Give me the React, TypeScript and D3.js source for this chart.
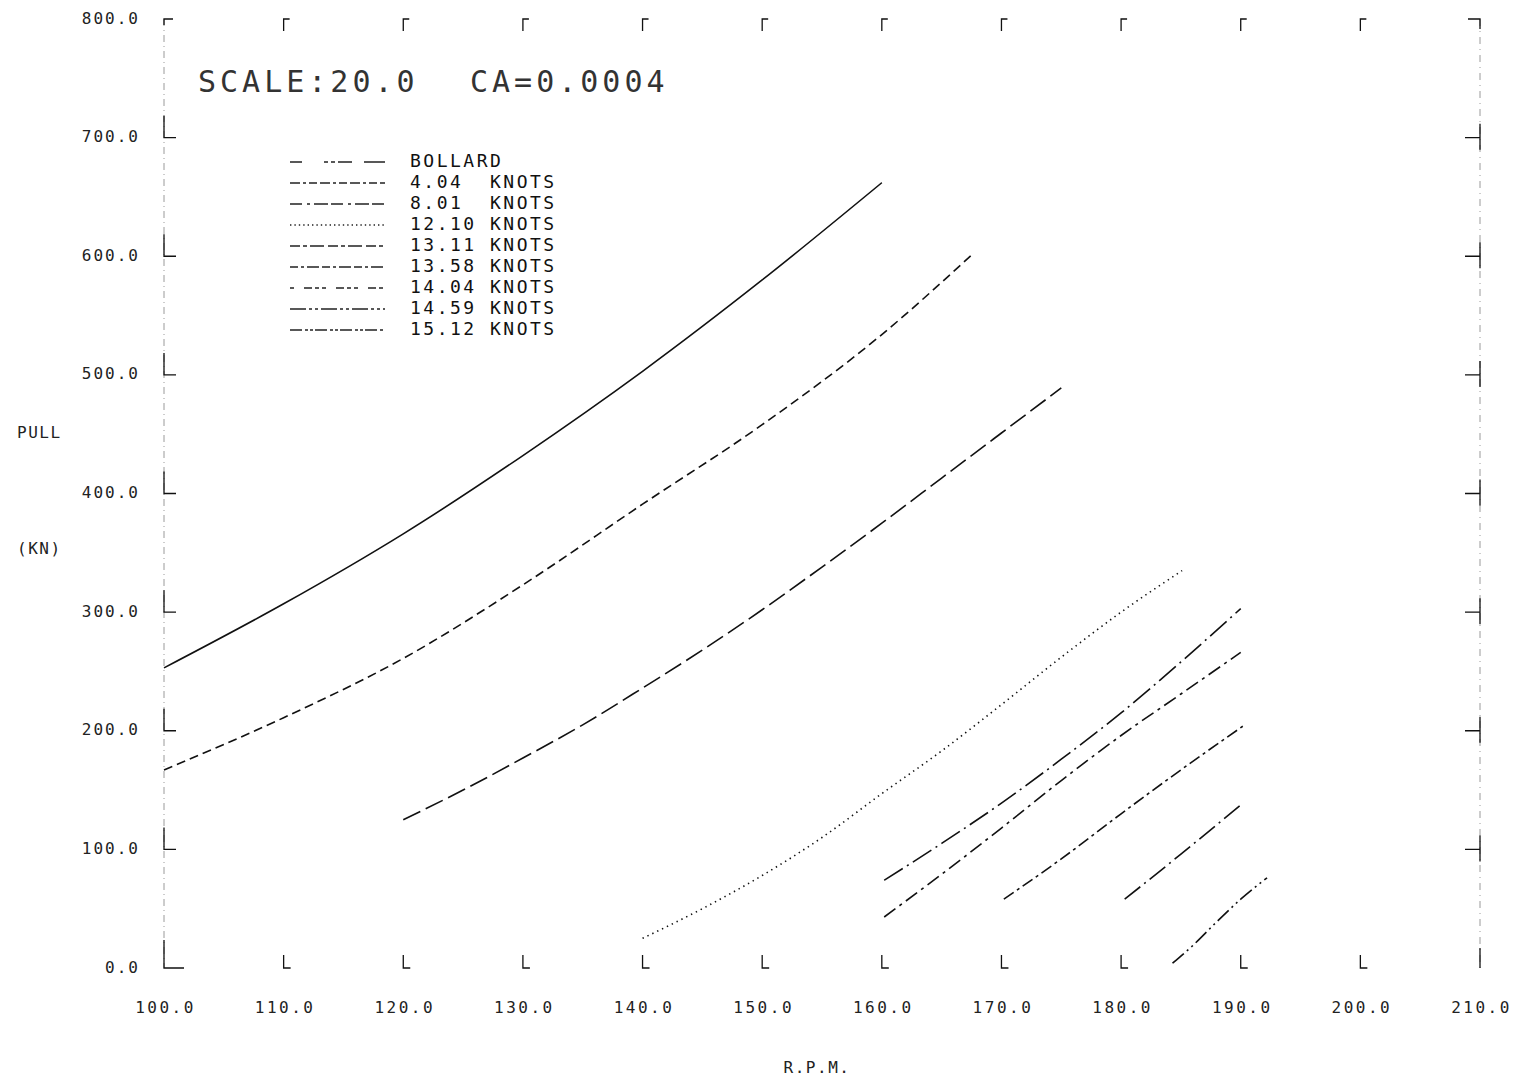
import React from "react";
import * as d3 from "d3";

const xTicks = [100, 110, 120, 130, 140, 150, 160, 170, 180, 190, 200, 210];
const yTicks = [0, 100, 200, 300, 400, 500, 600, 700, 800];

const bollardRpm = [100, 110, 120, 130, 140, 150, 160];
const bollardPull = [253, 307, 366, 432, 503, 580, 662];
const k404Rpm = [100, 110, 120, 130, 140, 150, 160, 167.5];
const k404Pull = [167, 211, 261, 323, 391, 458, 534, 601];
const k801Rpm = [120, 125, 130, 135, 140, 145, 150, 155, 160, 165, 170, 175];
const k801Pull = [125, 150, 177, 205, 236, 268, 302, 338, 375, 413, 451, 489];
const k1210Rpm = [140, 145, 150, 155, 160, 165, 170, 175, 180, 185.1];
const k1210Pull = [25, 50, 78, 110, 147, 183, 222, 262, 300, 335];
const k1311Rpm = [160.2, 165, 170, 175, 180, 185, 190];
const k1311Pull = [74, 105, 139, 176, 215, 258, 303];
const k1358Rpm = [160.2, 165, 170, 175, 180, 185, 190];
const k1358Pull = [43, 79, 118, 158, 196, 231, 266];
const k1404Rpm = [170.2, 175, 180, 185, 190.2];
const k1404Pull = [58, 92, 130, 167, 204];
const k1459Rpm = [180.3, 185, 190.2];
const k1459Pull = [58, 96, 139];
const k1512Rpm = [184.3, 186, 188, 190, 192.2];
const k1512Pull = [4, 19, 39, 58, 76];

const seriesNames = [
  "BOLLARD",
  "4.04  KNOTS",
  "8.01  KNOTS",
  "12.10 KNOTS",
  "13.11 KNOTS",
  "13.58 KNOTS",
  "14.04 KNOTS",
  "14.59 KNOTS",
  "15.12 KNOTS",
];
const seriesRpm = [bollardRpm, k404Rpm, k801Rpm, k1210Rpm, k1311Rpm, k1358Rpm, k1404Rpm, k1459Rpm, k1512Rpm];
const seriesPull = [bollardPull, k404Pull, k801Pull, k1210Pull, k1311Pull, k1358Pull, k1404Pull, k1459Pull, k1512Pull];

const lineDash = ["none", "9 5", "19 6", "1.4 4", "22 5 2 5", "14 5 3 5", "12 4 3 4", "20 5 2 5", "15 4 2 4 2 4"];
const legendDash = ["12 22 4 3 4 3 14", "10 3 3 3 8 3", "12 5 3 4 14 3", "1.4 3", "10 3 4 3 14 4", "8 3 3 3 12 3", "4 10 8 3 4 3", "16 3 3 3 3 3", "12 3 3 2 3 2"];

const FONT = "'DejaVu Sans Mono', 'Liberation Mono', monospace";

export default function App() {
  const W = 1520;
  const H = 1078;
  const x = d3.scaleLinear().domain([100, 210]).range([164, 1480]);
  const y = d3.scaleLinear().domain([0, 800]).range([968, 19]);
  const fmt = d3.format(".1f");

  const line = (rpm: number[], pull: number[]) =>
    d3
      .line<number>()
      .x((_, i) => x(rpm[i]))
      .y((d) => y(d))
      .curve(d3.curveMonotoneX)(pull) as string;

  const x0 = x(100);
  const x1 = x(210);
  const yTop = y(800);
  const yBot = y(0);

  return (
    <svg width={W} height={H} style={{ position: "absolute", left: 0, top: 0, background: "#fff" }}>
      {/* faint frame */}
      <g stroke="#9a9a9a" strokeWidth={1} fill="none">
        <line x1={x0} y1={yTop} x2={x0} y2={yBot} strokeDasharray="7 4 1 4" />
        <line x1={x1} y1={yTop} x2={x1} y2={yBot} strokeDasharray="7 5 1 5" />
      </g>

      {/* left ticks */}
      <g stroke="#111" strokeWidth={1.3} fill="none">
        {yTicks.map((t) =>
          t === 800 ? (
            <path key={t} d={`M${x0},${y(t) + 6}V${y(t)}h9`} />
          ) : t === 0 ? (
            <path key={t} d={`M${x0},${y(t) - 28}V${y(t)}h20`} />
          ) : (
            <path key={t} d={`M${x0},${y(t) - 22}V${y(t)}h12`} />
          )
        )}
      </g>
      {/* right ticks */}
      <g stroke="#111" strokeWidth={1.3} fill="none">
        {yTicks.map((t) =>
          t === 800 ? (
            <path key={t} d={`M${x1 - 12},${y(t)}H${x1}v10`} />
          ) : t === 0 ? (
            <path key={t} d={`M${x1},${y(t) - 20}V${y(t)}`} />
          ) : (
            <path key={t} d={`M${x1},${y(t) - 14}V${y(t) + 12}M${x1 - 15},${y(t)}H${x1}`} />
          )
        )}
      </g>
      {/* bottom ticks */}
      <g stroke="#111" strokeWidth={1.3} fill="none">
        {xTicks.slice(1, -1).map((t) => (
          <path key={t} d={`M${x(t)},${yBot - 13}V${yBot}h7`} />
        ))}
      </g>
      {/* top ticks */}
      <g stroke="#111" strokeWidth={1.3} fill="none">
        {xTicks.slice(1, -1).map((t) => (
          <path key={t} d={`M${x(t)},${yTop + 12}V${yTop}h6`} />
        ))}
      </g>

      {/* y tick labels */}
      <g fontFamily={FONT} fontSize={16} fill="#222" letterSpacing={2}>
        {yTicks.map((t) => (
          <text key={t} x={140} y={y(t)} textAnchor="end" dominantBaseline="middle">
            {fmt(t)}
          </text>
        ))}
      </g>
      {/* x tick labels */}
      <g fontFamily={FONT} fontSize={16} fill="#222" letterSpacing={2.5}>
        {xTicks.map((t) => (
          <text key={t} x={x(t) + 1.5} y={1008} textAnchor="middle" dominantBaseline="middle">
            {fmt(t)}
          </text>
        ))}
      </g>

      {/* axis titles */}
      <g fontFamily={FONT} fontSize={16} fill="#222" letterSpacing={1.5}>
        <text x={17} y={433} dominantBaseline="middle">PULL</text>
        <text x={17} y={549} dominantBaseline="middle">(KN)</text>
        <text x={817} y={1068} textAnchor="middle" dominantBaseline="middle">R.P.M.</text>
      </g>

      {/* title */}
      <g fontFamily={FONT} fontSize={30} fill="#333" letterSpacing={4}>
        <text x={198} y={83} dominantBaseline="middle">SCALE:20.0</text>
        <text x={470} y={83} dominantBaseline="middle">CA=0.0004</text>
      </g>

      {/* curves */}
      <g fill="none" stroke="#111" strokeWidth={1.6}>
        {seriesPull.map((p, i) => (
          <path key={i} d={line(seriesRpm[i], p)} strokeDasharray={lineDash[i]} />
        ))}
      </g>

      {/* legend */}
      <g>
        {seriesNames.map((n, i) => {
          const ly = 162 + i * 21;
          return (
            <g key={n}>
              <line x1={290} x2={385} y1={ly} y2={ly} stroke="#222" strokeWidth={1.3} strokeDasharray={legendDash[i]} />
              <text
                x={410}
                y={ly}
                fontFamily={FONT}
                fontSize={18}
                fill="#111"
                letterSpacing={2.5}
                dominantBaseline="middle"
                style={{ whiteSpace: "pre" }}
              >
                {n}
              </text>
            </g>
          );
        })}
      </g>
    </svg>
  );
}
